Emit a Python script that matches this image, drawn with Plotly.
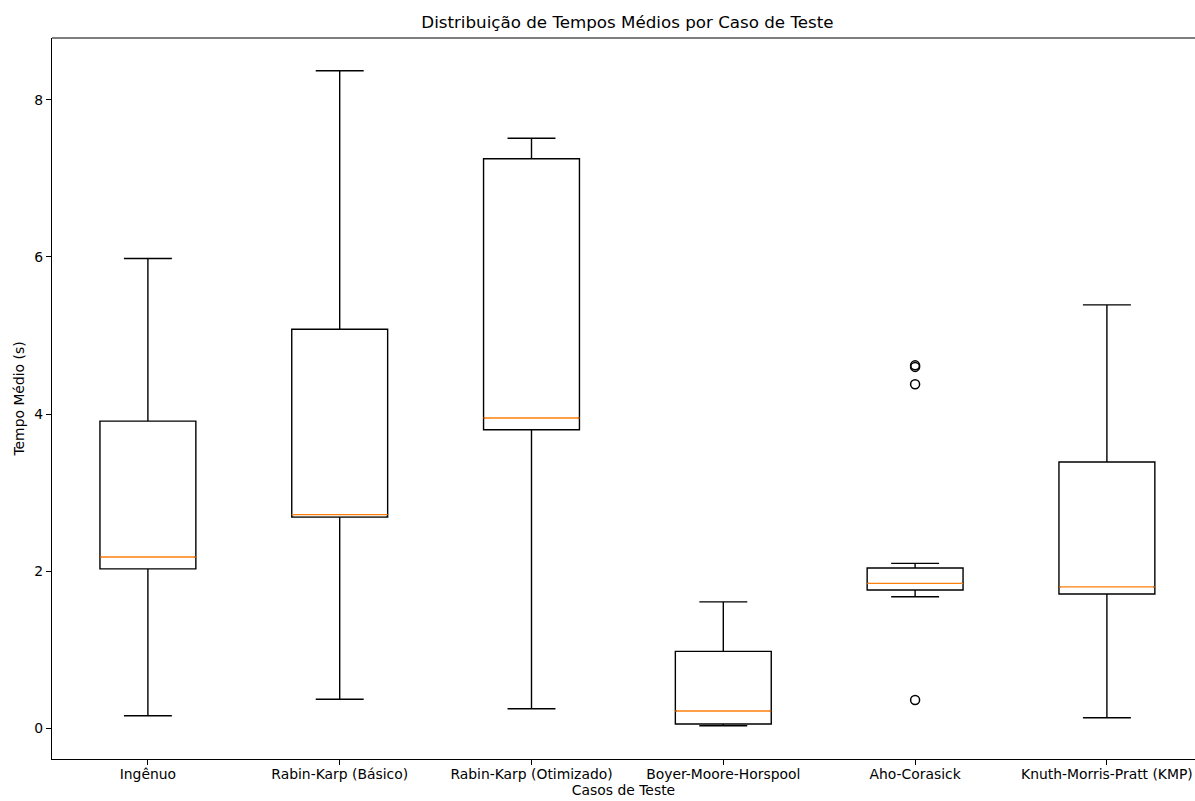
import plotly.graph_objects as go

categories = ["Ingênuo", "Rabin-Karp (Básico)", "Rabin-Karp (Otimizado)",
              "Boyer-Moore-Horspool", "Aho-Corasick", "Knuth-Morris-Pratt (KMP)"]
whisker_low = [0.16, 0.37, 0.25, 0.033, 1.675, 0.135]
q1 = [2.03, 2.69, 3.80, 0.055, 1.76, 1.71]
median = [2.18, 2.72, 3.95, 0.22, 1.845, 1.80]
q3 = [3.91, 5.08, 7.25, 0.98, 2.04, 3.39]
whisker_high = [5.98, 8.37, 7.51, 1.61, 2.10, 5.39]
outlier_cat = ["Aho-Corasick", "Aho-Corasick", "Aho-Corasick", "Aho-Corasick"]
outlier_val = [4.62, 4.60, 4.38, 0.36]

positions = list(range(1, len(categories) + 1))
box_w = 0.5

fig = go.Figure()
for i, cat in enumerate(categories):
    fig.add_trace(go.Box(
        x=[positions[i]], q1=[q1[i]], median=[median[i]], q3=[q3[i]],
        lowerfence=[whisker_low[i]], upperfence=[whisker_high[i]],
        width=box_w, whiskerwidth=0.5,
        line=dict(color="black", width=1.4),
        fillcolor="rgba(255,255,255,0)",
        boxpoints=False, showlegend=False, hoverinfo="skip",
    ))

# cover the black median with white, then draw it in orange
inset = 0.008
wx, wy, mx, my = [], [], [], []
for i in range(len(categories)):
    wx += [positions[i] - box_w / 2 + inset, positions[i] + box_w / 2 - inset, None]
    wy += [median[i], median[i], None]
    mx += [positions[i] - box_w / 2, positions[i] + box_w / 2, None]
    my += [median[i], median[i], None]
fig.add_trace(go.Scatter(x=wx, y=wy, mode="lines",
                         line=dict(color="white", width=3.2),
                         showlegend=False, hoverinfo="skip"))
fig.add_trace(go.Scatter(x=mx, y=my, mode="lines",
                         line=dict(color="#ff7f0e", width=1.4),
                         showlegend=False, hoverinfo="skip"))

# outliers
ox = [positions[categories.index(c)] for c in outlier_cat]
fig.add_trace(go.Scatter(x=ox, y=outlier_val, mode="markers",
                         marker=dict(symbol="circle-open", size=9,
                                     color="black", line=dict(width=1.5)),
                         showlegend=False, hoverinfo="skip"))

font = "DejaVu Sans"
W, H = 1195, 801
L, T, B = 52, 38, 42
unit_px = 191.8
fig.update_layout(
    width=W, height=H,
    margin=dict(l=L, r=0, t=T, b=B),
    paper_bgcolor="white", plot_bgcolor="white",
    font=dict(family=font, size=13.9, color="black"),
    title=dict(text="Distribuição de Tempos Médios por Caso de Teste",
               x=(L + L + 6 * unit_px) / 2 / W, xanchor="center",
               y=1 - 22 / H, yanchor="middle",
               font=dict(family=font, size=16.7, color="black")),
    xaxis=dict(range=[0.5, 0.5 + (W - L) / unit_px],
               tickmode="array", tickvals=positions, ticktext=categories,
               ticklabeloverflow="allow", ticklabelstandoff=-3,
               showgrid=False, zeroline=False,
               showline=True, linecolor="black", linewidth=1.1,
               ticks="outside", ticklen=5, tickcolor="black", tickwidth=1.1,
               title=dict(text="Casos de Teste", standoff=1,
                          font=dict(family=font, size=13.9))),
    yaxis=dict(range=[-0.39, 8.786],
               tickvals=[0, 2, 4, 6, 8],
               showgrid=False, zeroline=False,
               showline=True, linecolor="black", linewidth=1.1,
               ticks="outside", ticklen=5, tickcolor="black", tickwidth=1.1,
               title=dict(text="Tempo Médio (s)", standoff=6,
                          font=dict(family=font, size=13.9))),
    shapes=[dict(type="line", xref="paper", yref="paper",
                 x0=0, x1=1, y0=1, y1=1,
                 line=dict(color="black", width=1.1))],
)

# remove the default page margin so the figure sits exactly in the window
fig.write_html("out.html",
               config={"displayModeBar": False},
               post_script="document.body.style.margin='0';"
                           "document.body.style.overflow='hidden';")
